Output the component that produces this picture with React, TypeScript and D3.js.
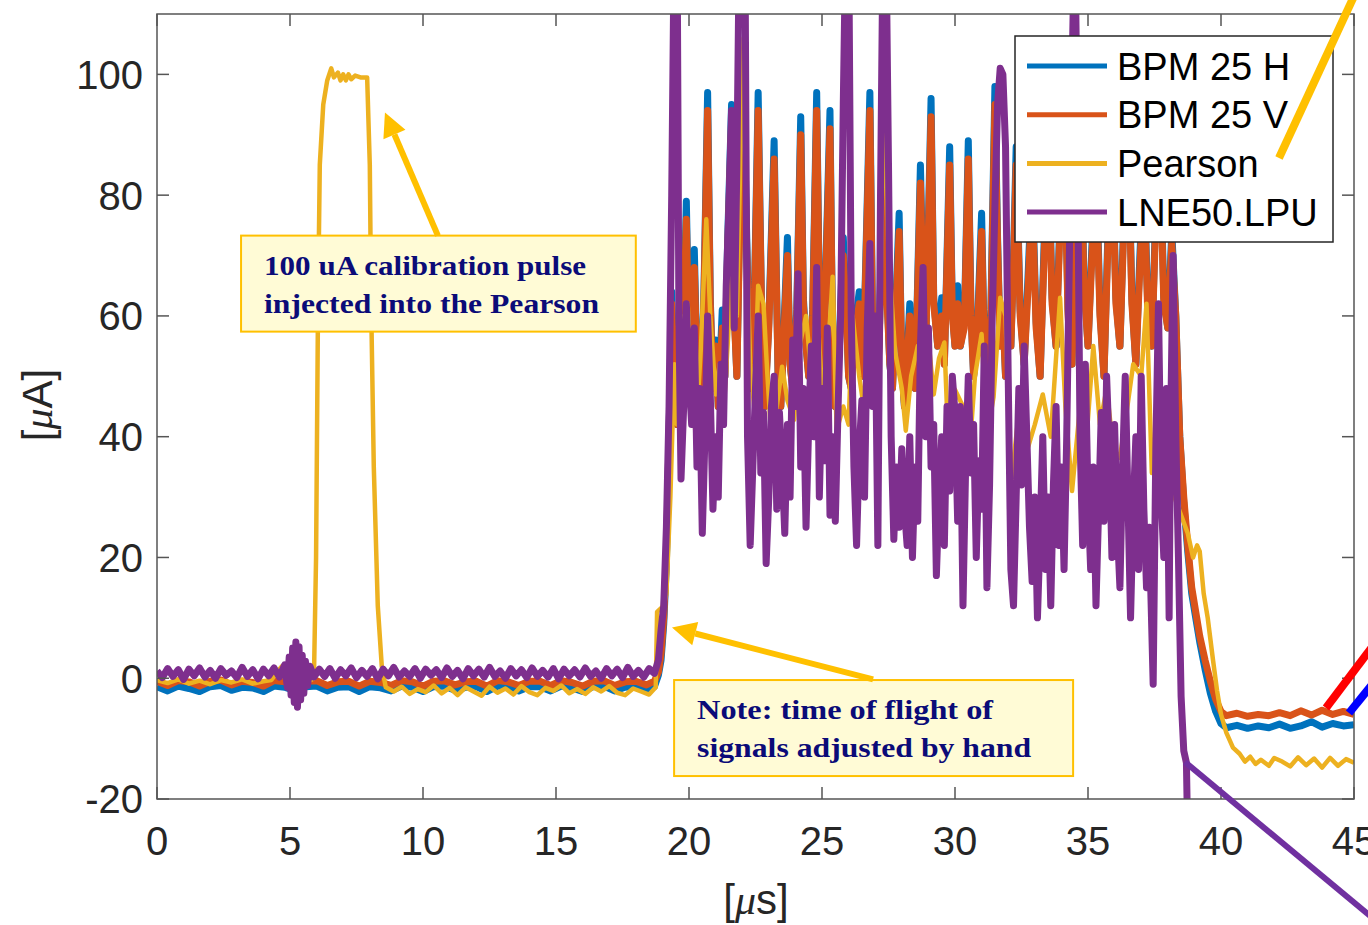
import React, { useEffect, useRef } from 'react';
import * as d3 from 'd3';

type Pt = [number, number];

// BPM 25 horizontal pickup [us, uA]
const bpmH: Pt[] = [
  [0,-1.4],[0.4,-2.1],[0.8,-1.3],[1.2,-1.7],[1.6,-2.2],[2.0,-1.4],[2.4,-1.2],[2.8,-2.0],[3.2,-1.5],[3.6,-1.6],
  [4.0,-2.2],[4.4,-1.3],[4.8,-1.5],[5.2,-2.1],[5.6,-1.4],[6.0,-1.3],[6.4,-2.1],[6.8,-1.5],[7.2,-1.4],[7.6,-2.2],
  [8.0,-1.4],[8.4,-1.6],[8.8,-2.1],[9.2,-1.3],[9.6,-1.5],[10.0,-2.2],[10.4,-1.4],[10.8,-1.3],[11.2,-2.0],[11.6,-1.5],
  [12.0,-1.4],[12.4,-2.2],[12.8,-1.3],[13.2,-1.5],[13.6,-2.1],[14.0,-1.4],[14.4,-1.4],[14.8,-2.1],[15.2,-1.3],[15.6,-1.6],
  [16.0,-2.2],[16.4,-1.4],[16.8,-1.3],[17.2,-2.1],[17.6,-1.5],[18.0,-1.4],[18.4,-2.0],[18.7,-1.4],
  [18.85,0.5],[18.95,3],[19.05,9],[19.15,19],[19.25,40],[19.35,64],[19.45,49],[19.55,42],[19.65,62],[19.75,50],
  [19.9,79],[20.0,56],[20.1,45],[20.2,71],[20.3,52],[20.4,48],[20.55,61],[20.7,97],[20.8,63],[20.9,48],
  [21.0,56],[21.1,45],[21.25,61],[21.35,50],[21.45,72],[21.6,95],[21.7,61],[21.8,50],[21.95,88],[22.05,99],
  [22.15,77],[22.3,48],[22.45,61],[22.6,97],[22.75,55],[22.85,45],[23.0,59],[23.2,89],[23.35,50],[23.45,45],
  [23.55,56],[23.7,73],[23.8,52],[23.9,48],[24.05,61],[24.2,93],[24.3,63],[24.4,55],[24.5,50],[24.65,61],
  [24.8,97],[24.9,63],[25.0,50],[25.1,61],[25.3,94],[25.4,55],[25.5,45],[25.65,56],[25.8,73],[25.9,63],
  [26.0,50],[26.1,48],[26.2,57],[26.4,64],[26.5,50],[26.6,61],[26.8,97],[26.9,59],[27.0,46],[27.15,56],
  [27.35,95],[27.45,63],[27.55,52],[27.65,48],[27.75,59],[27.9,77],[28.0,52],[28.1,45],[28.3,62],[28.4,52],
  [28.5,48],[28.7,85],[28.8,65],[28.9,55],[29.1,96],[29.2,63],[29.35,55],[29.5,63],[29.6,52],[29.8,88],
  [29.9,61],[30.0,55],[30.1,65],[30.2,55],[30.35,59],[30.5,89],[30.6,61],[30.7,50],[30.85,59],[31.0,77],
  [31.1,55],[31.2,50],[31.35,61],[31.5,98],[31.6,73],[31.7,55],[31.8,61],[31.9,50],[32.0,63],[32.1,55],
  [32.2,70],[32.3,88],[32.45,61],[32.6,52],[32.75,67],[32.9,83],[33.05,59],[33.2,50],[33.35,72],[33.5,91],
  [33.65,63],[33.8,55],[33.95,77],[34.1,93],[34.25,61],[34.4,52],[34.55,80],[34.7,95],[34.85,66],[35.0,55],
  [35.15,72],[35.3,87],[35.45,61],[35.6,50],[35.75,74],[35.9,91],[36.05,63],[36.2,55],[36.35,77],[36.5,93],
  [36.65,63],[36.8,52],[36.95,70],[37.1,85],[37.25,61],[37.4,55],[37.55,78],[37.7,91],[37.85,63],[38.0,58],
  [38.15,74],[38.3,60],[38.45,40],[38.6,29],[38.75,21],[38.9,14],[39.05,10],[39.2,6],[39.4,1.5],[39.6,-2.5],
  [39.8,-5.5],[40.0,-7.5],[40.2,-8.2],[40.6,-7.8],[41.0,-8.3],[41.4,-7.9],[41.8,-8.2],[42.2,-7.6],[42.6,-8.3],
  [43.0,-7.9],[43.4,-7.2],[43.8,-8.1],[44.2,-7.5],[44.6,-7.9],[45,-7.7],
];

// BPM 25 vertical pickup
const bpmV: Pt[] = [
  [0,-0.5],[0.4,-1.2],[0.8,-0.4],[1.2,-0.6],[1.6,-1.3],[2.0,-0.5],[2.4,-0.3],[2.8,-1.1],[3.2,-0.5],[3.6,-0.7],
  [4.0,-1.3],[4.4,-0.4],[4.8,-0.6],[5.2,-1.2],[5.6,-0.5],[6.0,-0.4],[6.4,-1.2],[6.8,-0.6],[7.2,-0.5],[7.6,-1.3],
  [8.0,-0.5],[8.4,-0.7],[8.8,-1.2],[9.2,-0.4],[9.6,-0.6],[10.0,-1.3],[10.4,-0.5],[10.8,-0.4],[11.2,-1.1],[11.6,-0.6],
  [12.0,-0.5],[12.4,-1.3],[12.8,-0.4],[13.2,-0.6],[13.6,-1.2],[14.0,-0.5],[14.4,-0.5],[14.8,-1.2],[15.2,-0.4],[15.6,-0.7],
  [16.0,-1.3],[16.4,-0.5],[16.8,-0.4],[17.2,-1.2],[17.6,-0.6],[18.0,-0.5],[18.4,-1.1],[18.7,-0.5],
  [18.85,1],[18.95,4],[19.05,10],[19.15,20],[19.25,40],[19.35,62],[19.45,48],[19.55,42],[19.65,60],[19.75,50],
  [19.9,76],[20.0,55],[20.1,45],[20.2,68],[20.3,52],[20.4,48],[20.55,60],[20.7,94],[20.8,62],[20.9,48],
  [21.0,55],[21.1,45],[21.25,58],[21.35,50],[21.45,70],[21.6,92],[21.7,60],[21.8,50],[21.95,85],[22.05,96],
  [22.15,75],[22.3,48],[22.45,60],[22.6,94],[22.75,55],[22.85,45],[23.0,58],[23.2,86],[23.35,50],[23.45,45],
  [23.55,55],[23.7,70],[23.8,52],[23.9,48],[24.05,60],[24.2,90],[24.3,62],[24.4,55],[24.5,50],[24.65,60],
  [24.8,94],[24.9,62],[25.0,50],[25.1,60],[25.3,91],[25.4,55],[25.5,45],[25.65,55],[25.8,70],[25.9,62],
  [26.0,50],[26.1,48],[26.2,56],[26.4,62],[26.5,50],[26.6,60],[26.8,94],[26.9,58],[27.0,46],[27.15,55],
  [27.35,92],[27.45,62],[27.55,52],[27.65,48],[27.75,58],[27.9,74],[28.0,52],[28.1,45],[28.3,60],[28.4,52],
  [28.5,48],[28.7,82],[28.8,64],[28.9,55],[29.1,93],[29.2,62],[29.35,55],[29.5,60],[29.6,52],[29.8,85],
  [29.9,60],[30.0,55],[30.1,62],[30.2,55],[30.35,58],[30.5,86],[30.6,60],[30.7,50],[30.85,58],[31.0,74],
  [31.1,55],[31.2,50],[31.35,60],[31.5,95],[31.6,72],[31.7,55],[31.8,60],[31.9,50],[32.0,62],[32.1,55],
  [32.2,68],[32.3,85],[32.45,60],[32.6,52],[32.75,65],[32.9,80],[33.05,58],[33.2,50],[33.35,70],[33.5,88],
  [33.65,62],[33.8,55],[33.95,75],[34.1,90],[34.25,60],[34.4,52],[34.55,78],[34.7,92],[34.85,65],[35.0,55],
  [35.15,70],[35.3,84],[35.45,60],[35.6,50],[35.75,72],[35.9,88],[36.05,62],[36.2,55],[36.35,75],[36.5,90],
  [36.65,62],[36.8,52],[36.95,68],[37.1,82],[37.25,60],[37.4,55],[37.55,76],[37.7,88],[37.85,62],[38.0,58],
  [38.15,72],[38.3,60],[38.45,40],[38.6,30],[38.75,22],[38.9,15],[39.05,11],[39.2,7],[39.4,3],[39.6,-0.5],
  [39.8,-3.5],[40.0,-5.5],[40.2,-6.2],[40.6,-5.8],[41.0,-6.3],[41.4,-6],[41.8,-6.2],[42.2,-5.7],[42.6,-6.2],
  [43.0,-5.4],[43.4,-6.1],[43.8,-5.3],[44.2,-6],[44.6,-5.5],[45,-6],
];

// Pearson current transformer
const pearson: Pt[] = [
  [0,-0.3],[0.4,-0.8],[0.8,-0.2],[1.2,-0.9],[1.6,-0.4],[2.0,-1.0],[2.4,-0.3],[2.8,-0.7],[3.2,-0.2],[3.6,-0.9],
  [4.0,-0.5],[4.3,-0.3],[4.55,1.2],[4.7,2],[4.85,0.5],[5.1,-0.6],[5.4,-0.2],[5.7,-0.5],[5.9,0],[5.98,20],
  [6.05,60],[6.12,85],[6.25,95],[6.4,99],[6.55,101],[6.65,99.5],[6.8,100.3],[6.9,99],[7.0,100],[7.1,99],
  [7.2,100],[7.3,99.2],[7.45,99.8],[7.65,99.5],[7.9,99.5],[8.0,85],[8.05,62],[8.15,35],[8.3,12],[8.45,2],
  [8.6,-1.5],[8.9,-2.2],[9.2,-1.4],[9.5,-2.6],[9.8,-1.8],[10.1,-2.3],[10.4,-1.2],[10.7,-2.5],[11.0,-1.6],[11.3,-2.8],
  [11.6,-1.5],[11.9,-2.2],[12.2,-2.9],[12.5,-1.4],[12.8,-2.4],[13.1,-1.7],[13.4,-2.7],[13.7,-1.3],[14.0,-2.3],[14.3,-2.8],
  [14.6,-1.6],[14.9,-2.1],[15.2,-1.2],[15.5,-2.5],[15.8,-1.8],[16.1,-2.6],[16.4,-1.5],[16.7,-2.2],[17.0,-1.3],[17.3,-2.4],
  [17.6,-2.8],[17.9,-1.7],[18.2,-2.2],[18.5,-2.7],[18.75,-1.5],[18.8,11],[19.05,12],[19.15,14],[19.3,30],[19.45,52],
  [19.55,42],[19.7,60],[19.85,46],[19.95,62],[20.1,50],[20.25,40],[20.45,55],[20.65,76],[20.8,60],[21.0,47],
  [21.15,52],[21.3,44],[21.45,55],[21.65,70],[21.8,60],[21.95,90],[22.05,106],[22.15,75],[22.3,52],[22.45,45],
  [22.6,65],[22.8,62],[22.95,50],[23.1,39.5],[23.3,45],[23.5,51.6],[23.7,46],[23.95,42.8],[24.15,55],[24.4,60],
  [24.6,50],[24.8,62],[25.0,48],[25.2,52],[25.4,66.5],[25.55,41],[25.8,45],[26.0,42],[26.15,60],[26.4,50],
  [26.6,44],[26.8,55],[27.0,50],[27.2,65],[27.35,99],[27.5,70],[27.75,54],[28.0,48],[28.15,41],[28.35,50],
  [28.6,55],[28.8,48],[29.0,56],[29.2,47],[29.4,53],[29.6,55.6],[29.75,39],[30.0,47.8],[30.3,45],[30.55,38],
  [30.75,50],[31.0,57],[31.2,40],[31.45,46.6],[31.7,63],[31.9,60],[32.1,32],[32.3,40],[32.5,47.8],[32.75,38.3],
  [33.0,42],[33.3,47],[33.6,40],[33.95,63],[34.15,45],[34.4,31],[34.7,45],[34.95,40],[35.2,55],[35.45,42],
  [35.7,48],[35.95,38],[36.2,36.5],[36.45,44],[36.7,52],[37.0,50],[37.2,62],[37.4,34],[37.6,40],[37.8,47],
  [38.0,36],[38.25,30],[38.5,27],[38.75,24],[38.95,20],[39.1,22],[39.2,21],[39.35,14],[39.5,10],[39.7,3],
  [39.85,-2],[40.0,-6],[40.2,-9],[40.45,-11.5],[40.7,-12.5],[40.9,-13.8],[41.1,-13],[41.3,-14.2],[41.5,-13.5],[41.8,-14.5],
  [42.0,-13.2],[42.3,-13.8],[42.6,-14.6],[42.9,-13.1],[43.2,-14.4],[43.5,-13.3],[43.8,-14.8],[44.1,-13.2],[44.4,-14.5],[44.7,-13.4],
  [45,-14],
];

// LNE50.LPU loss monitor
const lne50: Pt[] = [
  [0,1.2],[0.2,0.1],[0.4,1.6],[0.6,0.3],[0.8,1.4],[1.0,-0.2],[1.2,1.5],[1.4,0.4],[1.6,1.7],[1.8,0.2],
  [2.0,1.3],[2.2,0],[2.4,1.6],[2.6,0.5],[2.8,1.2],[3.0,0.1],[3.2,1.8],[3.4,0.3],[3.6,1.4],[3.8,-0.1],
  [4.0,1.5],[4.2,0.4],[4.4,1.7],[4.6,0.2],[4.8,2.2],[4.9,-1.5],[4.97,3.5],[5.04,-2.8],[5.1,5],[5.16,-4],
  [5.22,6],[5.28,-4.8],[5.34,5.2],[5.4,-3.6],[5.46,3.8],[5.52,-2.5],[5.58,2.8],[5.66,-1.2],[5.75,2],[5.9,0.2],
  [6.1,1.5],[6.3,0.3],[6.5,1.6],[6.7,0],[6.9,1.4],[7.1,0.4],[7.3,1.7],[7.5,0.1],[7.7,1.3],[7.9,0.3],
  [8.1,1.6],[8.3,-0.1],[8.5,1.5],[8.7,0.4],[8.9,1.8],[9.1,0.2],[9.3,1.2],[9.5,0.3],[9.7,1.6],[9.9,0],
  [10.1,1.5],[10.3,0.5],[10.5,1.4],[10.7,0.1],[10.9,1.7],[11.1,0.3],[11.3,1.3],[11.5,-0.1],[11.7,1.6],[11.9,0.4],
  [12.1,1.5],[12.3,0.2],[12.5,1.8],[12.7,0.3],[12.9,1.2],[13.1,0],[13.3,1.6],[13.5,0.4],[13.7,1.4],[13.9,0.1],
  [14.1,1.7],[14.3,0.3],[14.5,1.3],[14.7,0.2],[14.9,1.6],[15.1,-0.1],[15.3,1.5],[15.5,0.4],[15.7,1.4],[15.9,0.2],
  [16.1,1.7],[16.3,0.3],[16.5,1.2],[16.7,0],[16.9,1.6],[17.1,0.4],[17.3,1.5],[17.5,0.1],[17.7,1.8],[17.9,0.3],
  [18.1,1.3],[18.3,0.2],[18.5,1.6],[18.7,0.8],
  [18.85,3],[18.95,8],[19.05,12],[19.15,25],[19.25,45],[19.35,80],[19.45,125],[19.55,125],[19.62,60],[19.7,33],
  [19.8,45],[19.9,62],[20.0,50],[20.1,42],[20.2,58],[20.3,35],[20.4,48],[20.5,24],[20.6,40],[20.7,60],
  [20.8,47],[20.9,28],[21.0,40],[21.1,30],[21.2,52],[21.3,42],[21.4,65],[21.5,78],[21.6,94],[21.7,58],
  [21.8,85],[21.9,125],[22.0,125],[22.1,125],[22.2,40],[22.3,22],[22.4,35],[22.5,48],[22.6,60],[22.7,34],
  [22.8,44],[22.9,19],[23.0,30],[23.1,45],[23.2,50],[23.3,28],[23.4,44],[23.5,35],[23.6,24],[23.7,42],
  [23.8,30],[23.9,56],[24.0,45],[24.1,67],[24.2,35],[24.3,48],[24.4,25],[24.5,42],[24.6,55],[24.7,40],
  [24.8,68],[24.9,30],[25.0,48],[25.1,36],[25.2,58],[25.3,27],[25.4,40],[25.5,26],[25.6,44],[25.7,60],
  [25.8,95],[25.9,125],[26.0,125],[26.1,60],[26.2,35],[26.3,22],[26.4,38],[26.5,46],[26.6,30],[26.7,58],
  [26.8,72],[26.9,45],[27.0,60],[27.1,22],[27.2,80],[27.3,125],[27.4,125],[27.5,85],[27.6,40],[27.7,23],
  [27.8,35],[27.9,25],[28.0,38],[28.1,28],[28.2,22],[28.3,40],[28.4,20],[28.5,35],[28.6,26],[28.7,55],
  [28.8,68],[28.9,40],[29.0,58],[29.1,35],[29.2,42],[29.3,17],[29.4,30],[29.5,40],[29.6,22],[29.7,45],
  [29.8,31],[29.9,50],[30.0,44],[30.1,26],[30.2,45],[30.3,12],[30.4,35],[30.5,50],[30.6,34],[30.7,42],
  [30.8,20],[30.9,36],[31.0,28],[31.1,55],[31.2,15],[31.3,32],[31.4,60],[31.5,78],[31.6,95],[31.7,101],
  [31.8,100],[31.9,88],[32.0,50],[32.1,18],[32.2,12],[32.3,30],[32.4,48],[32.5,32],[32.6,55],[32.7,40],
  [32.8,25],[32.9,16],[33.0,30],[33.1,10],[33.2,24],[33.3,40],[33.4,18],[33.5,30],[33.6,12],[33.7,32],
  [33.8,45],[33.9,22],[34.0,35],[34.1,18],[34.2,40],[34.3,70],[34.4,100],[34.5,125],[34.6,90],[34.7,40],
  [34.8,22],[34.9,52],[35.0,30],[35.1,18],[35.2,35],[35.3,12],[35.4,28],[35.5,44],[35.6,26],[35.7,50],
  [35.8,38],[35.9,20],[36.0,42],[36.1,25],[36.2,15],[36.3,35],[36.4,50],[36.5,30],[36.6,10],[36.7,28],
  [36.8,40],[36.9,18],[37.0,50],[37.1,28],[37.2,15],[37.3,25],[37.45,-1],[37.55,38],[37.65,62],[37.75,30],
  [37.85,20],[37.95,48],[38.05,10],[38.1,40],[38.2,70],[38.3,40],[38.4,20],[38.5,-3],[38.6,-12],[38.7,-14],
  [38.8,-40],[45,-40],
];

const seriesNames = ['BPM 25 H', 'BPM 25 V', 'Pearson', 'LNE50.LPU'];
const seriesColors = ['#0072BD', '#D95319', '#EDB120', '#7E2F8E'];
const seriesWidths = [7, 7, 4.5, 7];
const xTicks = [0, 5, 10, 15, 20, 25, 30, 35, 40, 45];
const yTicks = [-20, 0, 20, 40, 60, 80, 100];

// text boxes and arrows, in data units
const notes = [
  { x0: 3.16, y0: 73.3, x1: 18.0, y1: 57.4, lines: ['100 uA calibration pulse', 'injected into the Pearson'], widths: [322, 335] },
  { x0: 19.44, y0: -0.3, x1: 34.44, y1: -16.2, lines: ['Note: time of flight of', 'signals adjusted by hand'], widths: [296, 334] },
];
const arrows = [
  { from: [10.56, 73.3], to: [8.57, 93.7] },
  { from: [26.92, -0.2], to: [19.36, 8.4] },
];

const App = () => {
  const svgRef = useRef<SVGSVGElement>(null);

  useEffect(() => {
    const svg = d3.select(svgRef.current);
    svg.selectAll('*').remove();

    const left = 157, right = 1354, top = 14, bottom = 799;
    const x = d3.scaleLinear().domain([0, 45]).range([left, right]);
    const y = d3.scaleLinear().domain([-20, 110]).range([bottom, top]);
    const font = 'Liberation Sans, Arial, Helvetica, sans-serif';

    svg.append('rect').attr('width', 1368).attr('height', 925).attr('fill', '#fff');

    svg.append('defs').append('clipPath').attr('id', 'plot-clip')
      .append('rect').attr('x', left).attr('y', top)
      .attr('width', right - left).attr('height', bottom - top);

    // Lines
    const line = d3.line<Pt>().x(d => x(d[0])).y(d => y(d[1]));
    const plot = svg.append('g').attr('clip-path', 'url(#plot-clip)');
    [bpmH, bpmV, pearson, lne50].forEach((data, i) => {
      plot.append('path')
        .datum(data)
        .attr('fill', 'none')
        .attr('stroke', seriesColors[i])
        .attr('stroke-width', seriesWidths[i])
        .attr('stroke-linejoin', 'round')
        .attr('d', line);
    });

    // Axes box and inward ticks
    const axisColor = '#262626';
    svg.append('rect')
      .attr('x', left).attr('y', top)
      .attr('width', right - left).attr('height', bottom - top)
      .attr('fill', 'none').attr('stroke', '#555').attr('stroke-width', 1.5);

    const tickLen = 12;
    xTicks.forEach(t => {
      svg.append('line').attr('x1', x(t)).attr('x2', x(t)).attr('y1', bottom).attr('y2', bottom - tickLen)
        .attr('stroke', '#555').attr('stroke-width', 1.5);
      svg.append('line').attr('x1', x(t)).attr('x2', x(t)).attr('y1', top).attr('y2', top + tickLen)
        .attr('stroke', '#555').attr('stroke-width', 1.5);
      svg.append('text').attr('x', x(t)).attr('y', 855)
        .attr('text-anchor', 'middle').attr('font-family', font).attr('font-size', 40)
        .attr('fill', axisColor).text(t);
    });
    yTicks.forEach(t => {
      svg.append('line').attr('x1', left).attr('x2', left + tickLen).attr('y1', y(t)).attr('y2', y(t))
        .attr('stroke', '#555').attr('stroke-width', 1.5);
      svg.append('line').attr('x1', right).attr('x2', right - tickLen).attr('y1', y(t)).attr('y2', y(t))
        .attr('stroke', '#555').attr('stroke-width', 1.5);
      svg.append('text').attr('x', 143).attr('y', y(t)).attr('dy', '0.36em')
        .attr('text-anchor', 'end').attr('font-family', font).attr('font-size', 40)
        .attr('fill', axisColor).text(t);
    });

    // Axis labels
    const xl = svg.append('text').attr('x', 756).attr('y', 914)
      .attr('text-anchor', 'middle').attr('font-family', font).attr('font-size', 42).attr('fill', axisColor);
    xl.append('tspan').text('[');
    xl.append('tspan').attr('font-family', 'Liberation Serif, serif').attr('font-style', 'italic').text('μ');
    xl.append('tspan').text('s]');

    const yl = svg.append('text').attr('transform', 'translate(52,405) rotate(-90)')
      .attr('text-anchor', 'middle').attr('font-family', font).attr('font-size', 42).attr('fill', axisColor);
    yl.append('tspan').text('[');
    yl.append('tspan').attr('font-family', 'Liberation Serif, serif').attr('font-style', 'italic').text('μ');
    yl.append('tspan').text('A]');

    // Legend
    const lg = svg.append('g');
    lg.append('rect').attr('x', 1015).attr('y', 36).attr('width', 318).attr('height', 206)
      .attr('fill', '#fff').attr('stroke', axisColor).attr('stroke-width', 1.5);
    seriesNames.forEach((name, i) => {
      const cy = 66 + i * 48.7;
      lg.append('line').attr('x1', 1027).attr('x2', 1107).attr('y1', cy).attr('y2', cy)
        .attr('stroke', seriesColors[i]).attr('stroke-width', 5);
      lg.append('text').attr('x', 1117).attr('y', cy).attr('dy', '0.36em')
        .attr('font-family', font).attr('font-size', 38).attr('fill', '#000').text(name);
    });

    // Annotation boxes
    notes.forEach(n => {
      const bx = x(n.x0), by = y(n.y0);
      svg.append('rect').attr('x', bx).attr('y', by)
        .attr('width', x(n.x1) - bx).attr('height', y(n.y1) - by)
        .attr('fill', '#FFFBD6').attr('stroke', '#FFC000').attr('stroke-width', 2);
      n.lines.forEach((s, k) => {
        svg.append('text').attr('x', bx + 23).attr('y', by + 39 + k * 38)
          .attr('font-family', 'Liberation Serif, Times New Roman, serif').attr('font-weight', 'bold')
          .attr('font-size', 28).attr('fill', '#0B0B78')
          .attr('textLength', n.widths[k]).attr('lengthAdjust', 'spacingAndGlyphs')
          .text(s);
      });
    });

    // Arrows
    const arrow = (x1: number, y1: number, x2: number, y2: number, color: string, w: number, head: number) => {
      const a = Math.atan2(y2 - y1, x2 - x1);
      const bx = x2 - head * Math.cos(a), by = y2 - head * Math.sin(a);
      svg.append('line').attr('x1', x1).attr('y1', y1).attr('x2', bx).attr('y2', by)
        .attr('stroke', color).attr('stroke-width', w);
      if (head > 0) {
        const hw = head * 0.5;
        const pts = [
          [x2, y2],
          [bx + hw * Math.sin(a), by - hw * Math.cos(a)],
          [bx - hw * Math.sin(a), by + hw * Math.cos(a)],
        ];
        svg.append('polygon').attr('points', pts.map(p => p.join(',')).join(' ')).attr('fill', color);
      }
    };
    arrows.forEach(a => arrow(x(a.from[0]), y(a.from[1]), x(a.to[0]), y(a.to[1]), '#FFC000', 6, 24));

    // Slide arrows coming from outside the picture
    arrow(1279, 158, 1355, -6, '#FFC000', 8, 0);
    arrow(1326, 708, 1375, 643, '#FF0000', 8, 0);
    arrow(1349, 713, 1375, 681, '#0000FF', 8, 0);
    arrow(1185, 762, 1375, 920, '#7030A0', 6, 0);
  }, []);

  return (
    <svg ref={svgRef} width={1368} height={925}
      style={{ position: 'absolute', left: 0, top: 0, display: 'block' }} />
  );
};

export default App;
